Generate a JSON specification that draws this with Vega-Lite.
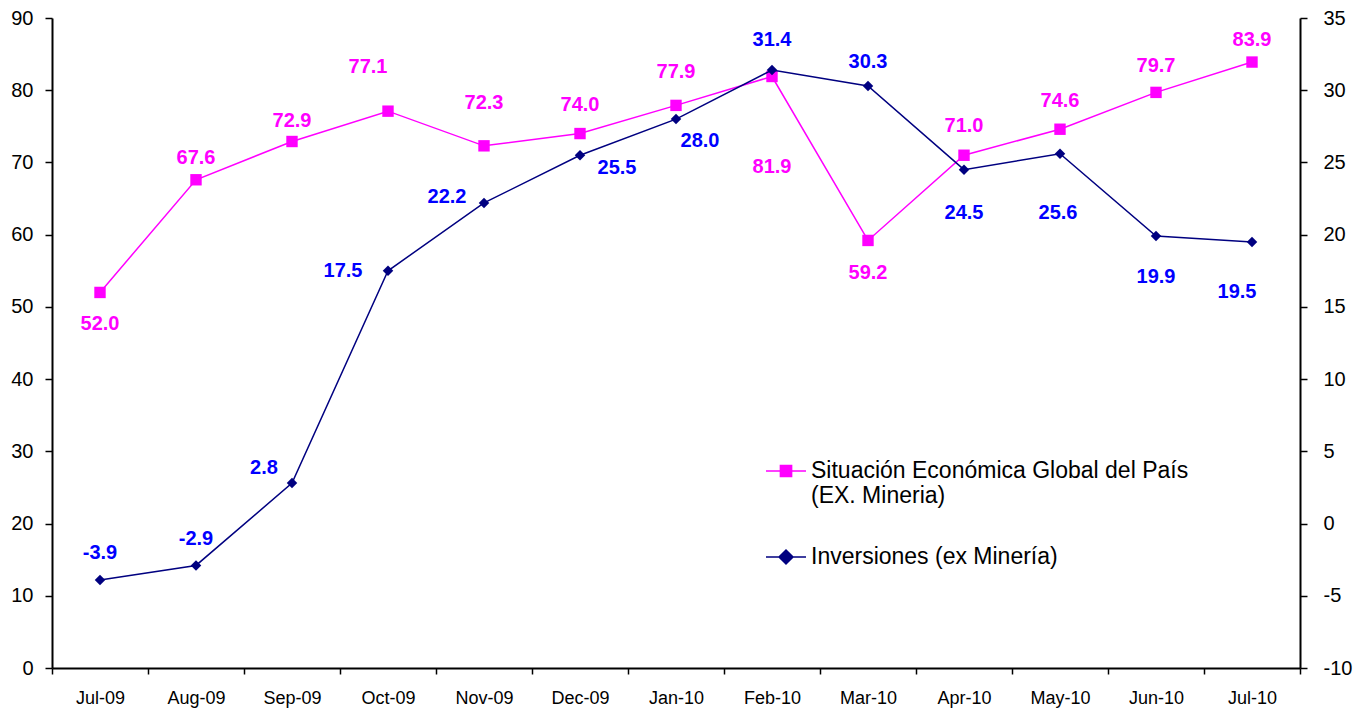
{
  "$schema": "https://vega.github.io/schema/vega-lite/v6.json",
  "width": 1248,
  "height": 650,
  "autosize": {"type": "none"},
  "padding": {"left": 52, "top": 18, "right": 70, "bottom": 45},
  "background": "white",
  "config": {"view": {"stroke": null}, "font": "Liberation Sans"},
  "data": {"values": [
    {"month": "Jul-09", "series": "Situación Económica Global del País (EX. Mineria)", "value": 52.0},
    {"month": "Aug-09", "series": "Situación Económica Global del País (EX. Mineria)", "value": 67.6},
    {"month": "Sep-09", "series": "Situación Económica Global del País (EX. Mineria)", "value": 72.9},
    {"month": "Oct-09", "series": "Situación Económica Global del País (EX. Mineria)", "value": 77.1},
    {"month": "Nov-09", "series": "Situación Económica Global del País (EX. Mineria)", "value": 72.3},
    {"month": "Dec-09", "series": "Situación Económica Global del País (EX. Mineria)", "value": 74.0},
    {"month": "Jan-10", "series": "Situación Económica Global del País (EX. Mineria)", "value": 77.9},
    {"month": "Feb-10", "series": "Situación Económica Global del País (EX. Mineria)", "value": 81.9},
    {"month": "Mar-10", "series": "Situación Económica Global del País (EX. Mineria)", "value": 59.2},
    {"month": "Apr-10", "series": "Situación Económica Global del País (EX. Mineria)", "value": 71.0},
    {"month": "May-10", "series": "Situación Económica Global del País (EX. Mineria)", "value": 74.6},
    {"month": "Jun-10", "series": "Situación Económica Global del País (EX. Mineria)", "value": 79.7},
    {"month": "Jul-10", "series": "Situación Económica Global del País (EX. Mineria)", "value": 83.9},
    {"month": "Jul-09", "series": "Inversiones (ex Minería)", "value": -3.9},
    {"month": "Aug-09", "series": "Inversiones (ex Minería)", "value": -2.9},
    {"month": "Sep-09", "series": "Inversiones (ex Minería)", "value": 2.8},
    {"month": "Oct-09", "series": "Inversiones (ex Minería)", "value": 17.5},
    {"month": "Nov-09", "series": "Inversiones (ex Minería)", "value": 22.2},
    {"month": "Dec-09", "series": "Inversiones (ex Minería)", "value": 25.5},
    {"month": "Jan-10", "series": "Inversiones (ex Minería)", "value": 28.0},
    {"month": "Feb-10", "series": "Inversiones (ex Minería)", "value": 31.4},
    {"month": "Mar-10", "series": "Inversiones (ex Minería)", "value": 30.3},
    {"month": "Apr-10", "series": "Inversiones (ex Minería)", "value": 24.5},
    {"month": "May-10", "series": "Inversiones (ex Minería)", "value": 25.6},
    {"month": "Jun-10", "series": "Inversiones (ex Minería)", "value": 19.9},
    {"month": "Jul-10", "series": "Inversiones (ex Minería)", "value": 19.5}
  ]},
  "encoding": {
    "x": {
      "field": "month", "type": "ordinal", "sort": null,
      "scale": {"paddingInner": 0, "paddingOuter": 0},
      "axis": {
        "title": null, "labelAngle": 0, "labelFont": "Liberation Sans", "labelFontSize": 18,
        "labelColor": "black", "labelPadding": 15, "tickBand": "extent", "tickSize": 6,
        "tickColor": "black", "tickWidth": 1.5, "domainColor": "black", "domainWidth": 2, "grid": false
      }
    }
  },
  "layer": [
    {
      "transform": [{"filter": "datum.series === 'Situación Económica Global del País (EX. Mineria)'"}],
      "encoding": {
        "y": {
          "field": "value", "type": "quantitative",
          "scale": {"domain": [0, 90], "nice": false, "zero": false},
          "axis": {
            "orient": "left", "title": null, "values": [0,10,20,30,40,50,60,70,80,90],
            "labelFont": "Liberation Sans", "labelFontSize": 20, "labelColor": "black", "labelPadding": 12,
            "tickSize": 7, "tickColor": "black", "tickWidth": 1.5, "domainColor": "black", "domainWidth": 2, "grid": false
          }
        }
      },
      "layer": [
        {
          "mark": {"type": "line", "strokeWidth": 1.5},
          "encoding": {
            "color": {
              "field": "series", "type": "nominal",
              "scale": {"domain": ["Situación Económica Global del País (EX. Mineria)", "Inversiones (ex Minería)"], "range": ["#FF00FF", "#000080"]},
              "legend": {
                "orient": "none", "legendX": 713, "legendY": 432, "title": null, "padding": 0,
                "labelFont": "Liberation Sans", "labelFontSize": 23, "labelColor": "black", "labelLimit": 600,
                "labelExpr": "datum.label === 'Situación Económica Global del País (EX. Mineria)' ? ['Situación Económica Global del País', '(EX. Mineria)'] : datum.label",
                "labelBaseline": "top", "labelOffset": 4, "rowPadding": 28,
                "symbolSize": 1600, "symbolStrokeWidth": 1.5,
                "encode": {
                  "symbols": {"update": {
                    "shape": {"signal": "datum.value === 'Inversiones (ex Minería)' ? 'M-1,0H1M0,-0.35L0.35,0L0,0.35L-0.35,0Z' : 'M-1,0H1M-0.28,-0.28H0.28V0.28H-0.28Z'"},
                    "fill": {"signal": "datum.value === 'Inversiones (ex Minería)' ? '#000080' : '#FF00FF'"},
                    "stroke": {"signal": "datum.value === 'Inversiones (ex Minería)' ? '#000080' : '#FF00FF'"},
                    "opacity": {"value": 1}
                  }},
                  "labels": {"update": {"dy": {"value": -11}}}
                }
              }
            }
          }
        },
        {
          "mark": {"type": "point", "shape": "square", "filled": true, "size": 130, "color": "#FF00FF", "opacity": 1}
        },
        {
          "mark": {
            "type": "text", "font": "Liberation Sans", "fontSize": 20, "fontWeight": "bold", "color": "#FF00FF", "baseline": "middle",
            "text": {"expr": "replace(format(datum.value, '.1f'), '\u2212', '-')"},
            "dx": {"expr": "datum.month === 'Oct-09' ? -20 : 0"},
            "dy": {"expr": "{'Jul-09': 32, 'Aug-09': -22, 'Sep-09': -21, 'Oct-09': -44, 'Nov-09': -43, 'Dec-09': -29, 'Jan-10': -33, 'Feb-10': 90, 'Mar-10': 33, 'Apr-10': -29, 'May-10': -28, 'Jun-10': -26, 'Jul-10': -22}[datum.month]"}
          }
        }
      ]
    },
    {
      "transform": [{"filter": "datum.series === 'Inversiones (ex Minería)'"}],
      "encoding": {
        "y": {
          "field": "value", "type": "quantitative",
          "scale": {"domain": [-10, 35], "nice": false, "zero": false},
          "axis": {
            "orient": "right", "title": null, "values": [-10,-5,0,5,10,15,20,25,30,35],
            "labelExpr": "replace(datum.label, '\u2212', '-')",
            "labelFont": "Liberation Sans", "labelFontSize": 20, "labelColor": "black", "labelPadding": 16,
            "tickSize": 7, "tickColor": "black", "tickWidth": 1.5, "domainColor": "black", "domainWidth": 2, "grid": false
          }
        }
      },
      "layer": [
        {
          "mark": {"type": "line", "strokeWidth": 1.5},
          "encoding": {
            "color": {
              "field": "series", "type": "nominal",
              "scale": {"domain": ["Situación Económica Global del País (EX. Mineria)", "Inversiones (ex Minería)"], "range": ["#FF00FF", "#000080"]}
            }
          }
        },
        {
          "mark": {"type": "point", "shape": "diamond", "filled": true, "size": 110, "color": "#000080", "opacity": 1}
        },
        {
          "mark": {
            "type": "text", "font": "Liberation Sans", "fontSize": 20, "fontWeight": "bold", "color": "#0000FF", "baseline": "middle",
            "text": {"expr": "replace(format(datum.value, '.1f'), '\u2212', '-')"},
            "dx": {"expr": "{'Jul-09': 0, 'Aug-09': 0, 'Sep-09': -28, 'Oct-09': -45, 'Nov-09': -37, 'Dec-09': 37, 'Jan-10': 24, 'Feb-10': 0, 'Mar-10': 0, 'Apr-10': 0, 'May-10': -2, 'Jun-10': 0, 'Jul-10': -15}[datum.month]"},
            "dy": {"expr": "{'Jul-09': -27, 'Aug-09': -26, 'Sep-09': -15, 'Oct-09': 0, 'Nov-09': -6, 'Dec-09': 13, 'Jan-10': 22, 'Feb-10': -30, 'Mar-10': -24, 'Apr-10': 43, 'May-10': 59, 'Jun-10': 41, 'Jul-10': 50}[datum.month]"}
          }
        }
      ]
    }
  ],
  "resolve": {"scale": {"y": "independent"}}
}
